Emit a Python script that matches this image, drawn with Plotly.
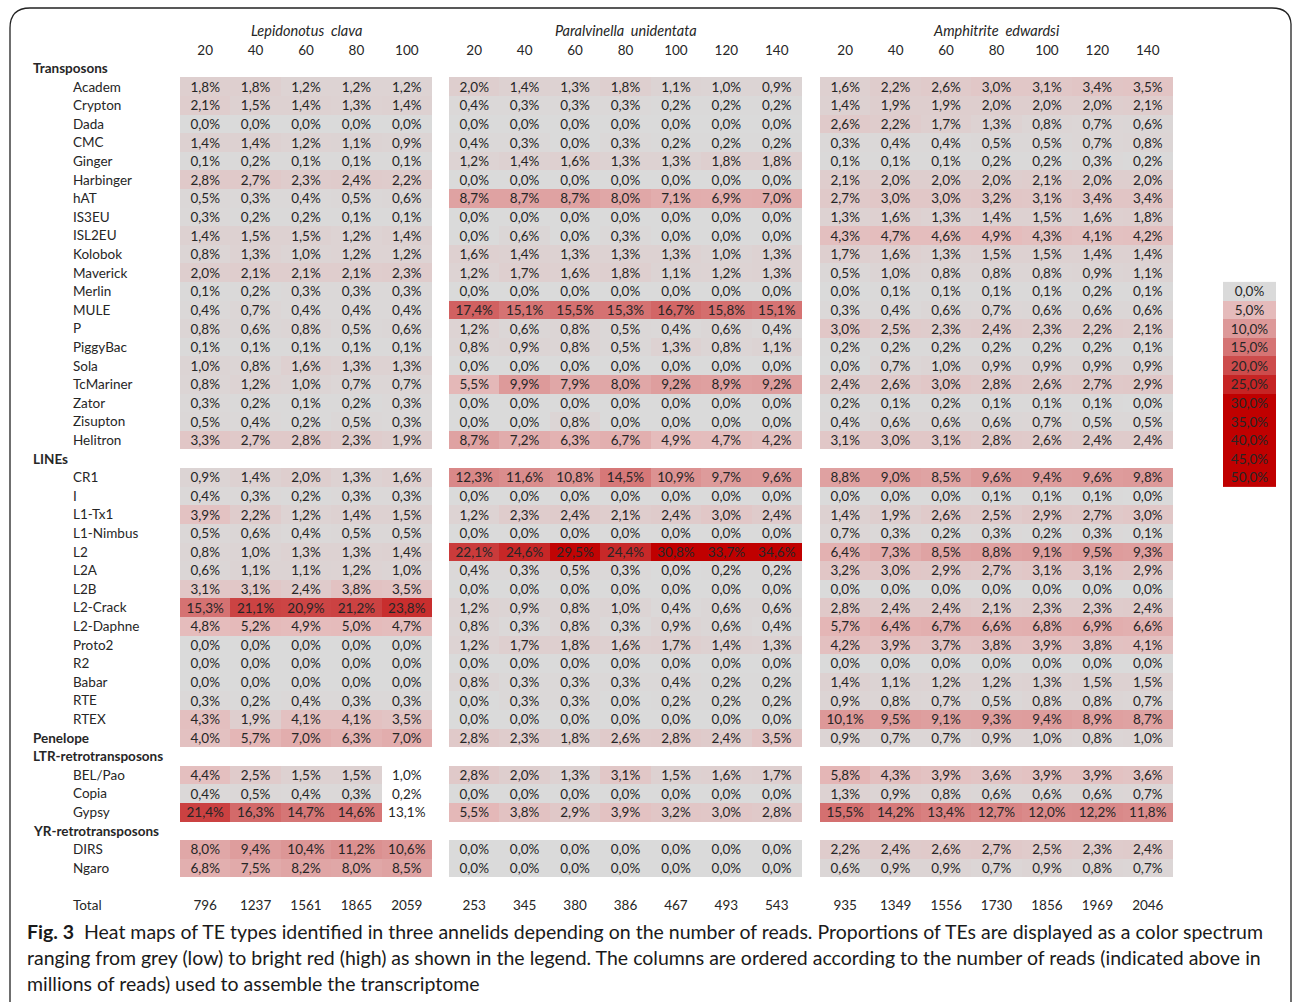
import math
import plotly.graph_objects as go

# ---------------- data ----------------
GROUPS = [
    ("Transposons", ["Academ", "Crypton", "Dada", "CMC", "Ginger", "Harbinger", "hAT", "IS3EU",
                     "ISL2EU", "Kolobok", "Maverick", "Merlin", "MULE", "P", "PiggyBac", "Sola",
                     "TcMariner", "Zator", "Zisupton", "Helitron"]),
    ("LINEs", ["CR1", "I", "L1-Tx1", "L1-Nimbus", "L2", "L2A", "L2B", "L2-Crack", "L2-Daphne",
               "Proto2", "R2", "Babar", "RTE", "RTEX"]),
    ("Penelope", ["Penelope"]),
    ("LTR-retrotransposons", ["BEL/Pao", "Copia", "Gypsy"]),
    ("YR-retrotransposons", ["DIRS", "Ngaro"]),
]

SPECIES = ["Lepidonotus  clava", "Paralvinella  unidentata", "Amphitrite  edwardsi"]

LEPI_READS = [20, 40, 60, 80, 100]
PARA_READS = [20, 40, 60, 80, 100, 120, 140]
AMPH_READS = [20, 40, 60, 80, 100, 120, 140]

LEPI_TOTAL = [796, 1237, 1561, 1865, 2059]
PARA_TOTAL = [253, 345, 380, 386, 467, 493, 543]
AMPH_TOTAL = [935, 1349, 1556, 1730, 1856, 1969, 2046]

# rows in the order of GROUPS members (percent)
LEPI_VALUES = [
    [1.8, 1.8, 1.2, 1.2, 1.2], [2.1, 1.5, 1.4, 1.3, 1.4], [0.0, 0.0, 0.0, 0.0, 0.0],
    [1.4, 1.4, 1.2, 1.1, 0.9], [0.1, 0.2, 0.1, 0.1, 0.1], [2.8, 2.7, 2.3, 2.4, 2.2],
    [0.5, 0.3, 0.4, 0.5, 0.6], [0.3, 0.2, 0.2, 0.1, 0.1], [1.4, 1.5, 1.5, 1.2, 1.4],
    [0.8, 1.3, 1.0, 1.2, 1.2], [2.0, 2.1, 2.1, 2.1, 2.3], [0.1, 0.2, 0.3, 0.3, 0.3],
    [0.4, 0.7, 0.4, 0.4, 0.4], [0.8, 0.6, 0.8, 0.5, 0.6], [0.1, 0.1, 0.1, 0.1, 0.1],
    [1.0, 0.8, 1.6, 1.3, 1.3], [0.8, 1.2, 1.0, 0.7, 0.7], [0.3, 0.2, 0.1, 0.2, 0.3],
    [0.5, 0.4, 0.2, 0.5, 0.3], [3.3, 2.7, 2.8, 2.3, 1.9],
    [0.9, 1.4, 2.0, 1.3, 1.6], [0.4, 0.3, 0.2, 0.3, 0.3], [3.9, 2.2, 1.2, 1.4, 1.5],
    [0.5, 0.6, 0.4, 0.5, 0.5], [0.8, 1.0, 1.3, 1.3, 1.4], [0.6, 1.1, 1.1, 1.2, 1.0],
    [3.1, 3.1, 2.4, 3.8, 3.5], [15.3, 21.1, 20.9, 21.2, 23.8], [4.8, 5.2, 4.9, 5.0, 4.7],
    [0.0, 0.0, 0.0, 0.0, 0.0], [0.0, 0.0, 0.0, 0.0, 0.0], [0.0, 0.0, 0.0, 0.0, 0.0],
    [0.3, 0.2, 0.4, 0.3, 0.3], [4.3, 1.9, 4.1, 4.1, 3.5],
    [4.0, 5.7, 7.0, 6.3, 7.0],
    [4.4, 2.5, 1.5, 1.5, 1.0], [0.4, 0.5, 0.4, 0.3, 0.2], [21.4, 16.3, 14.7, 14.6, 13.1],
    [8.0, 9.4, 10.4, 11.2, 10.6], [6.8, 7.5, 8.2, 8.0, 8.5],
]

PARA_VALUES = [
    [2.0, 1.4, 1.3, 1.8, 1.1, 1.0, 0.9], [0.4, 0.3, 0.3, 0.3, 0.2, 0.2, 0.2],
    [0.0, 0.0, 0.0, 0.0, 0.0, 0.0, 0.0], [0.4, 0.3, 0.0, 0.3, 0.2, 0.2, 0.2],
    [1.2, 1.4, 1.6, 1.3, 1.3, 1.8, 1.8], [0.0, 0.0, 0.0, 0.0, 0.0, 0.0, 0.0],
    [8.7, 8.7, 8.7, 8.0, 7.1, 6.9, 7.0], [0.0, 0.0, 0.0, 0.0, 0.0, 0.0, 0.0],
    [0.0, 0.6, 0.0, 0.3, 0.0, 0.0, 0.0], [1.6, 1.4, 1.3, 1.3, 1.3, 1.0, 1.3],
    [1.2, 1.7, 1.6, 1.8, 1.1, 1.2, 1.3], [0.0, 0.0, 0.0, 0.0, 0.0, 0.0, 0.0],
    [17.4, 15.1, 15.5, 15.3, 16.7, 15.8, 15.1], [1.2, 0.6, 0.8, 0.5, 0.4, 0.6, 0.4],
    [0.8, 0.9, 0.8, 0.5, 1.3, 0.8, 1.1], [0.0, 0.0, 0.0, 0.0, 0.0, 0.0, 0.0],
    [5.5, 9.9, 7.9, 8.0, 9.2, 8.9, 9.2], [0.0, 0.0, 0.0, 0.0, 0.0, 0.0, 0.0],
    [0.0, 0.0, 0.8, 0.0, 0.0, 0.0, 0.0], [8.7, 7.2, 6.3, 6.7, 4.9, 4.7, 4.2],
    [12.3, 11.6, 10.8, 14.5, 10.9, 9.7, 9.6], [0.0, 0.0, 0.0, 0.0, 0.0, 0.0, 0.0],
    [1.2, 2.3, 2.4, 2.1, 2.4, 3.0, 2.4], [0.0, 0.0, 0.0, 0.0, 0.0, 0.0, 0.0],
    [22.1, 24.6, 29.5, 24.4, 30.8, 33.7, 34.6], [0.4, 0.3, 0.5, 0.3, 0.0, 0.2, 0.2],
    [0.0, 0.0, 0.0, 0.0, 0.0, 0.0, 0.0], [1.2, 0.9, 0.8, 1.0, 0.4, 0.6, 0.6],
    [0.8, 0.3, 0.8, 0.3, 0.9, 0.6, 0.4], [1.2, 1.7, 1.8, 1.6, 1.7, 1.4, 1.3],
    [0.0, 0.0, 0.0, 0.0, 0.0, 0.0, 0.0], [0.8, 0.3, 0.3, 0.3, 0.4, 0.2, 0.2],
    [0.0, 0.3, 0.3, 0.0, 0.2, 0.2, 0.2], [0.0, 0.0, 0.0, 0.0, 0.0, 0.0, 0.0],
    [2.8, 2.3, 1.8, 2.6, 2.8, 2.4, 3.5],
    [2.8, 2.0, 1.3, 3.1, 1.5, 1.6, 1.7], [0.0, 0.0, 0.0, 0.0, 0.0, 0.0, 0.0],
    [5.5, 3.8, 2.9, 3.9, 3.2, 3.0, 2.8],
    [0.0, 0.0, 0.0, 0.0, 0.0, 0.0, 0.0], [0.0, 0.0, 0.0, 0.0, 0.0, 0.0, 0.0],
]

AMPH_VALUES = [
    [1.6, 2.2, 2.6, 3.0, 3.1, 3.4, 3.5], [1.4, 1.9, 1.9, 2.0, 2.0, 2.0, 2.1],
    [2.6, 2.2, 1.7, 1.3, 0.8, 0.7, 0.6], [0.3, 0.4, 0.4, 0.5, 0.5, 0.7, 0.8],
    [0.1, 0.1, 0.1, 0.2, 0.2, 0.3, 0.2], [2.1, 2.0, 2.0, 2.0, 2.1, 2.0, 2.0],
    [2.7, 3.0, 3.0, 3.2, 3.1, 3.4, 3.4], [1.3, 1.6, 1.3, 1.4, 1.5, 1.6, 1.8],
    [4.3, 4.7, 4.6, 4.9, 4.3, 4.1, 4.2], [1.7, 1.6, 1.3, 1.5, 1.5, 1.4, 1.4],
    [0.5, 1.0, 0.8, 0.8, 0.8, 0.9, 1.1], [0.0, 0.1, 0.1, 0.1, 0.1, 0.2, 0.1],
    [0.3, 0.4, 0.6, 0.7, 0.6, 0.6, 0.6], [3.0, 2.5, 2.3, 2.4, 2.3, 2.2, 2.1],
    [0.2, 0.2, 0.2, 0.2, 0.2, 0.2, 0.1], [0.0, 0.7, 1.0, 0.9, 0.9, 0.9, 0.9],
    [2.4, 2.6, 3.0, 2.8, 2.6, 2.7, 2.9], [0.2, 0.1, 0.2, 0.1, 0.1, 0.1, 0.0],
    [0.4, 0.6, 0.6, 0.6, 0.7, 0.5, 0.5], [3.1, 3.0, 3.1, 2.8, 2.6, 2.4, 2.4],
    [8.8, 9.0, 8.5, 9.6, 9.4, 9.6, 9.8], [0.0, 0.0, 0.0, 0.1, 0.1, 0.1, 0.0],
    [1.4, 1.9, 2.6, 2.5, 2.9, 2.7, 3.0], [0.7, 0.3, 0.2, 0.3, 0.2, 0.3, 0.1],
    [6.4, 7.3, 8.5, 8.8, 9.1, 9.5, 9.3], [3.2, 3.0, 2.9, 2.7, 3.1, 3.1, 2.9],
    [0.0, 0.0, 0.0, 0.0, 0.0, 0.0, 0.0], [2.8, 2.4, 2.4, 2.1, 2.3, 2.3, 2.4],
    [5.7, 6.4, 6.7, 6.6, 6.8, 6.9, 6.6], [4.2, 3.9, 3.7, 3.8, 3.9, 3.8, 4.1],
    [0.0, 0.0, 0.0, 0.0, 0.0, 0.0, 0.0], [1.4, 1.1, 1.2, 1.2, 1.3, 1.5, 1.5],
    [0.9, 0.8, 0.7, 0.5, 0.8, 0.8, 0.7], [10.1, 9.5, 9.1, 9.3, 9.4, 8.9, 8.7],
    [0.9, 0.7, 0.7, 0.9, 1.0, 0.8, 1.0],
    [5.8, 4.3, 3.9, 3.6, 3.9, 3.9, 3.6], [1.3, 0.9, 0.8, 0.6, 0.6, 0.6, 0.7],
    [15.5, 14.2, 13.4, 12.7, 12.0, 12.2, 11.8],
    [2.2, 2.4, 2.6, 2.7, 2.5, 2.3, 2.4], [0.6, 0.9, 0.9, 0.7, 0.9, 0.8, 0.7],
]

# cells printed without colour fill in the original (type, column index)
LEPI_UNSHADED = [("BEL/Pao", 4), ("Copia", 4), ("Gypsy", 4)]

LEGEND_VALUES = [0, 5, 10, 15, 20, 25, 30, 35, 40, 45, 50]

CAPTION_BOLD = "Fig. 3"
CAPTION_LINES = [
    "Heat maps of TE types identified in three annelids depending on the number of reads. Proportions of TEs are displayed as a color spectrum",
    "ranging from grey (low) to bright red (high) as shown in the legend. The columns are ordered according to the number of reads (indicated above in",
    "millions of reads) used to assemble the transcriptome",
]

# ---------------- layout helpers ----------------
W, H = 1292, 1002
ROW0_PX, PITCH = 68.0, 18.6
FONT = "Lato, 'Open Sans', sans-serif"
TXT = "#262626"
SIZE = 13.5
TEXT_DY = 0.1  # small vertical nudge for scatter text baseline

def pct(v):
    return ("%.1f%%" % v).replace(".", ",")

# build row layout
row_labels = []   # (row index, label, bold, indent)
data_row_of = {}  # type -> row index
r = 0
for gname, members in GROUPS:
    if members == [gname]:
        row_labels.append((r, gname, True, False))
        data_row_of[gname] = r
        r += 1
    else:
        row_labels.append((r, gname, True, False))
        r += 1
        for m in members:
            row_labels.append((r, m, False, True))
            data_row_of[m] = r
            r += 1
TOTAL_ROW = r + 1
N_ROWS = TOTAL_ROW + 1
TYPES = [m for _, ms in GROUPS for m in ms]

colorscale = [
    [0.0, "rgb(218,218,218)"],
    [5 / 30, "rgb(229,187,187)"],
    [10 / 30, "rgb(221,153,153)"],
    [15 / 30, "rgb(213,116,116)"],
    [20 / 30, "rgb(205,76,76)"],
    [25 / 30, "rgb(198,36,36)"],
    [1.0, "rgb(192,0,0)"],
]

blocks = [
    (SPECIES[0], LEPI_READS, LEPI_VALUES, LEPI_TOTAL, LEPI_UNSHADED, (180, 432)),
    (SPECIES[1], PARA_READS, PARA_VALUES, PARA_TOTAL, [], (449, 802)),
    (SPECIES[2], AMPH_READS, AMPH_VALUES, AMPH_TOTAL, [], (820, 1173)),
]

fig = go.Figure()
annotations = []
layout_axes = {}

for bi, (sp, reads, values, totals, unshaded, (x0, x1)) in enumerate(blocks):
    xname = "x" if bi == 0 else "x%d" % (bi + 1)
    cats = [str(c) for c in reads]
    z = [[None] * len(cats) for _ in range(N_ROWS)]
    tx, ty, tt = [], [], []
    for ti, t in enumerate(TYPES):
        rr = data_row_of[t]
        for ci, v in enumerate(values[ti]):
            if (t, ci) not in unshaded:
                z[rr][ci] = v
            tx.append(cats[ci]); ty.append(rr + TEXT_DY); tt.append(pct(v))
    # column header (reads) and totals
    for ci, c in enumerate(cats):
        tx.append(c); ty.append(-1 + TEXT_DY); tt.append(c)
        tx.append(c); ty.append(TOTAL_ROW + TEXT_DY); tt.append(str(totals[ci]))
    fig.add_trace(go.Heatmap(
        z=z, x=cats, y=list(range(N_ROWS)), xaxis=xname, yaxis="y",
        colorscale=colorscale, zmin=0, zmax=30, showscale=False,
        hoverinfo="skip", xgap=0, ygap=0))
    fig.add_trace(go.Scatter(
        x=tx, y=ty, text=tt, mode="text", xaxis=xname, yaxis="y",
        textfont=dict(family=FONT, size=SIZE, color=TXT), hoverinfo="skip",
        showlegend=False))
    key = "xaxis" if bi == 0 else "xaxis%d" % (bi + 1)
    layout_axes[key] = dict(domain=[x0 / W, x1 / W], type="category",
                            categoryorder="array", categoryarray=cats,
                            range=[-0.5, len(cats) - 0.5], anchor="y",
                            visible=False, fixedrange=True)
    annotations.append(dict(x=(x0 + x1) / 2 / W, xref="paper", y=-2, yref="y",
                            text="<i>" + sp.replace("  ", "\u00a0 ") + "</i>",
                            showarrow=False, xanchor="center", yanchor="middle",
                            font=dict(family=FONT, size=14.5, color=TXT)))

# colour legend
leg_cats = ["L"]
leg_rows = list(range(12, 12 + len(LEGEND_VALUES)))
fig.add_trace(go.Heatmap(
    z=[[v] for v in LEGEND_VALUES], x=leg_cats, y=leg_rows, xaxis="x4", yaxis="y",
    colorscale=colorscale, zmin=0, zmax=30, showscale=False, hoverinfo="skip"))
fig.add_trace(go.Scatter(
    x=leg_cats * len(LEGEND_VALUES), y=[rr + TEXT_DY for rr in leg_rows],
    text=[pct(v) for v in LEGEND_VALUES],
    mode="text", xaxis="x4", yaxis="y", hoverinfo="skip", showlegend=False,
    textfont=dict(family=FONT, size=SIZE, color=TXT)))
layout_axes["xaxis4"] = dict(domain=[1223 / W, 1276 / W], type="category",
                             range=[-0.5, 0.5], anchor="y", visible=False, fixedrange=True)

# row labels
for rr, lab, bold, indent in row_labels:
    annotations.append(dict(x=(71 if indent else 31) / W, xref="paper", y=rr, yref="y",
                            text=("<b>%s</b>" % lab) if bold else lab, showarrow=False,
                            xanchor="left", yanchor="middle",
                            font=dict(family=FONT, size=SIZE, color=TXT)))
annotations.append(dict(x=71 / W, xref="paper", y=TOTAL_ROW, yref="y", text="Total",
                        showarrow=False, xanchor="left", yanchor="middle",
                        font=dict(family=FONT, size=SIZE, color=TXT)))

# caption
CAP_FONT = "Lato, 'Noto Sans', sans-serif"
CAP_SIZE = 19.5
cap_y = [931, 957, 983]
for i, line in enumerate(CAPTION_LINES):
    txt = ("<b>%s</b>\u00a0 " % CAPTION_BOLD + line) if i == 0 else line
    annotations.append(dict(x=25 / W, xref="paper", y=1 - cap_y[i] / H, yref="paper",
                            text=txt, showarrow=False, xanchor="left", yanchor="middle",
                            font=dict(family=CAP_FONT, size=CAP_SIZE, color="#1a1a1a")))

# frame
def px(x): return x / W
def py(y): return 1 - y / H
frame = ("M %f,%f L %f,%f Q %f,%f %f,%f L %f,%f Q %f,%f %f,%f L %f,%f" % (
    px(10), py(1002), px(10), py(28), px(10), py(8), px(30), py(8),
    px(1272), py(8), px(1290), py(8), px(1291), py(24), px(1291), py(1002)))

y_top = -ROW0_PX / PITCH
y_bot = (H - ROW0_PX) / PITCH
fig.update_layout(
    width=W, height=H, autosize=False,
    margin=dict(l=0, r=0, t=0, b=0, pad=0),
    paper_bgcolor="white", plot_bgcolor="white",
    showlegend=False,
    yaxis=dict(range=[y_bot, y_top], domain=[0, 1], visible=False, fixedrange=True),
    annotations=annotations,
    shapes=[dict(type="path", path=frame, xref="paper", yref="paper",
                 line=dict(color="#222222", width=1.3))],
    **layout_axes,
)

fig.write_html("out.html", config={"displayModeBar": False})
